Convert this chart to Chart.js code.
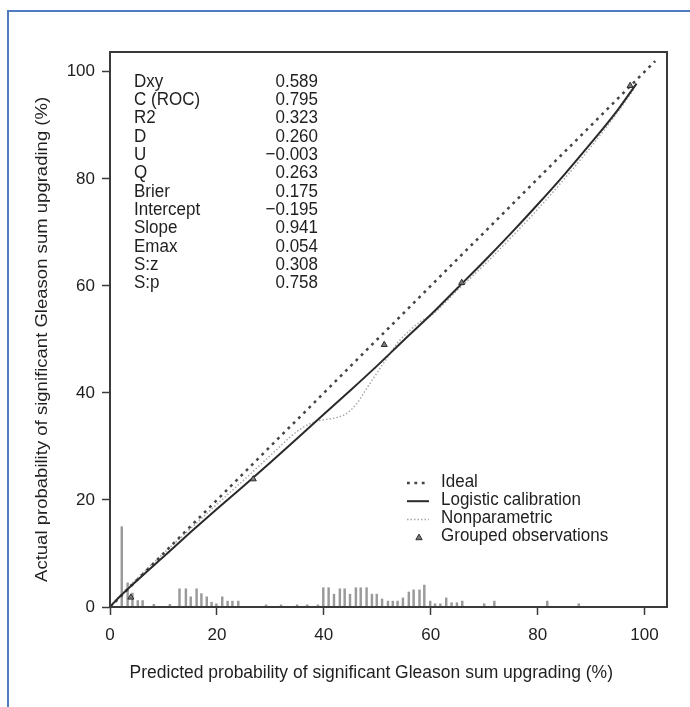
<!DOCTYPE html>
<html>
<head>
<meta charset="utf-8">
<script src="https://cdn.jsdelivr.net/npm/chart.js@4.4.1/dist/chart.umd.min.js"></script>
<style>
  html, body { margin: 0; padding: 0; background: #ffffff; }
  #wrap { position: relative; width: 690px; height: 707px; overflow: hidden; }
  #frame { position: absolute; left: 7px; top: 10px; width: 800px; height: 800px;
           border-top: 2px solid #4f7cc0; border-left: 2px solid #4f7cc0; }
  canvas { position: absolute; left: 0; top: 0; }
</style>
</head>
<body>
<div id="wrap">
  <div id="frame"></div>
  <canvas id="c" width="690" height="707"></canvas>
</div>
<script>
// ---------------- data ----------------
const xTickVals = [0, 20, 40, 60, 80, 100];
const yTickVals = [0, 20, 40, 60, 80, 100];

const xTitle = 'Predicted probability of significant Gleason sum upgrading (%)';
const yTitle = 'Actual probability of significant Gleason sum upgrading (%)';

const statLabels = ['Dxy', 'C (ROC)', 'R2', 'D', 'U', 'Q', 'Brier', 'Intercept', 'Slope', 'Emax', 'S:z', 'S:p'];
const statValues = ['0.589', '0.795', '0.323', '0.260', '\u22120.003', '0.263', '0.175', '\u22120.195', '0.941', '0.054', '0.308', '0.758'];

const legendLabels = ['Ideal', 'Logistic calibration', 'Nonparametric', 'Grouped observations'];

// Ideal line
const idealX = [0, 102];
const idealY = [0, 102];

// Logistic calibration curve
const logX = [0, 1, 2, 5, 10, 15, 20, 25, 30, 35, 40, 45, 50, 55, 60, 65, 70, 75, 80, 85, 90, 95, 98.5];
const logY = [0, 1.1, 2.1, 4.9, 9.4, 13.9, 18.3, 22.6, 27.0, 31.5, 36.0, 40.5, 45.1, 49.9, 54.6, 59.6, 64.6, 69.8, 75.2, 80.8, 86.7, 92.9, 97.8];

// Nonparametric (lowess) curve
const npX = [1, 3, 5, 10, 15, 20, 25, 30, 35, 38, 40, 42, 44, 46, 48, 50, 52, 54, 56, 58, 60, 65, 70, 75, 80, 85, 90, 95, 98];
const npY = [1.2, 3.3, 5.3, 10.0, 14.6, 19.2, 23.7, 28.3, 32.8, 34.5, 35.0, 35.3, 36.0, 37.8, 40.8, 43.8, 46.8, 49.6, 51.6, 53.3, 54.4, 59.2, 63.9, 69.0, 74.3, 80.0, 86.0, 92.5, 96.8];

// Grouped observations
const grpX = [3.9, 26.8, 51.3, 65.8, 97.3];
const grpY = [1.8, 23.9, 49.0, 60.6, 97.4];

// Rug (distribution of predicted probabilities)
const rugX = [2.2, 3.3, 4.2, 5.2, 6.1, 8.2, 11.2, 13.0, 14.2, 15.1, 16.2, 17.1, 18.1, 19.0, 19.9, 21.0, 22.0, 22.9, 24.0, 29.2, 32.0, 35.0, 36.9, 38.9, 39.9, 40.9, 41.9, 43.0, 43.9, 44.9, 46.0, 46.9, 48.0, 49.0, 49.9, 50.9, 52.0, 52.9, 53.8, 54.8, 55.9, 56.8, 57.9, 58.8, 59.9, 60.8, 61.8, 62.9, 63.9, 64.9, 65.9, 70.0, 71.9, 81.8, 87.7];
const rugH = [15.0, 4.5, 2.6, 1.2, 1.2, 0.5, 0.5, 3.4, 3.4, 1.9, 3.4, 2.5, 1.9, 0.9, 0.6, 1.9, 1.1, 1.1, 1.1, 0.4, 0.4, 0.4, 0.4, 0.4, 3.6, 3.6, 2.4, 3.4, 3.4, 2.4, 3.6, 3.6, 3.6, 2.4, 2.4, 1.5, 1.1, 1.1, 1.1, 1.7, 2.8, 3.2, 3.2, 4.1, 1.1, 0.6, 0.6, 1.7, 0.8, 0.8, 1.1, 0.6, 1.1, 1.1, 0.6];

// ---------------- styles ----------------
const FONT = "'Liberation Sans', Arial, Helvetica, sans-serif";
const TXT = '#1f1f1f';
const STRETCH = 1.09;
const pts = (xs, ys) => xs.map((x, i) => ({ x: x, y: ys[i] }));

const styles = {
  ideal: { color: '#444444', width: 2.5, dash: [2.8, 4.6] },
  logistic: { color: '#2a2a2a', width: 2 },
  nonpar: { color: '#a8a8a8', width: 1.5, dash: [1.5, 2] },
  grouped: { fill: '#7a7a7a', stroke: '#2e2e2e' }
};

function txt(c, s, x, y, align) {
  c.save();
  c.translate(x, y);
  c.scale(1, STRETCH);
  c.textAlign = align;
  c.fillText(s, 0, 0);
  c.restore();
}

// ---------------- plugin for frame, stats, legend, titles ----------------
const decor = {
  id: 'decor',
  afterDraw(chart) {
    const c = chart.ctx;
    const a = chart.chartArea;
    const xs = chart.scales.x, ys = chart.scales.y;
    c.save();
    // plot frame
    c.strokeStyle = '#3a3a3a';
    c.lineWidth = 2;
    c.strokeRect(a.left, a.top, a.right - a.left, a.bottom - a.top);

    c.fillStyle = TXT;
    c.font = '17px ' + FONT;
    c.textBaseline = 'alphabetic';
    // stats
    for (let i = 0; i < statLabels.length; i++) {
      const y = 86.5 + 18.35 * i;
      txt(c, statLabels[i], 134, y, 'left');
      txt(c, statValues[i], 318, y, 'right');
    }
    // legend
    const lx0 = 407, lx1 = 429, tx = 441;
    for (let i = 0; i < legendLabels.length; i++) {
      const cy = 480 + 18.2 * i;
      c.fillStyle = TXT;
      txt(c, legendLabels[i], tx, cy + 6.5, 'left');
      const sy = cy + 3;
      c.beginPath();
      if (i === 0) {
        c.setLineDash(styles.ideal.dash); c.strokeStyle = styles.ideal.color; c.lineWidth = styles.ideal.width;
        c.moveTo(lx0, sy); c.lineTo(lx1, sy); c.stroke();
      } else if (i === 1) {
        c.setLineDash([]); c.strokeStyle = styles.logistic.color; c.lineWidth = styles.logistic.width;
        c.moveTo(lx0, sy); c.lineTo(lx1, sy); c.stroke();
      } else if (i === 2) {
        c.setLineDash(styles.nonpar.dash); c.strokeStyle = styles.nonpar.color; c.lineWidth = styles.nonpar.width;
        c.moveTo(lx0, sy); c.lineTo(lx1, sy); c.stroke();
      } else {
        c.setLineDash([]);
        const tcx = 419, r = 3.5;
        c.moveTo(tcx, sy - r); c.lineTo(tcx + r * 0.9, sy + r * 0.6); c.lineTo(tcx - r * 0.9, sy + r * 0.6); c.closePath();
        c.fillStyle = styles.grouped.fill; c.fill();
        c.strokeStyle = styles.grouped.stroke; c.lineWidth = 1; c.stroke();
      }
    }
    c.setLineDash([]);
    // axis titles
    c.fillStyle = TXT;
    c.font = '17.5px ' + FONT;
    c.textBaseline = 'alphabetic';
    txt(c, xTitle, xs.getPixelForValue(50) - 6, 678, 'center');
    c.font = '17px ' + FONT;
    c.save();
    c.translate(42, ys.getPixelForValue(50));
    c.rotate(-Math.PI / 2);
    c.scale(STRETCH, 1);
    c.textAlign = 'center';
    c.textBaseline = 'middle';
    c.fillText(yTitle, 0, 0);
    c.restore();
    c.restore();
  }
};

const axisCommon = {
  type: 'linear',
  offset: false,
  border: { display: false },
  grid: { display: true, offset: false, drawOnChartArea: false, drawTicks: true, tickLength: 8, tickColor: '#3a3a3a', tickWidth: 1.5 },
  title: { display: false }
};

new Chart(document.getElementById('c').getContext('2d'), {
  type: 'scatter',
  data: {
    datasets: [
      { type: 'bar', label: 'rug', data: pts(rugX, rugH), backgroundColor: '#9a9a9a', barThickness: 1.8, order: 10 },
      { type: 'line', label: legendLabels[0], data: pts(idealX, idealY), borderColor: styles.ideal.color, borderWidth: styles.ideal.width,
        borderDash: styles.ideal.dash, pointRadius: 0, fill: false, tension: 0, order: 3 },
      { type: 'line', label: legendLabels[2], data: pts(npX, npY), borderColor: styles.nonpar.color, borderWidth: styles.nonpar.width,
        borderDash: styles.nonpar.dash, pointRadius: 0, fill: false, cubicInterpolationMode: 'monotone', order: 4 },
      { type: 'line', label: legendLabels[1], data: pts(logX, logY), borderColor: styles.logistic.color, borderWidth: styles.logistic.width,
        pointRadius: 0, fill: false, cubicInterpolationMode: 'monotone', order: 2 },
      { type: 'scatter', label: legendLabels[3], data: pts(grpX, grpY), pointStyle: 'triangle', pointRadius: 3.5,
        backgroundColor: styles.grouped.fill, borderColor: styles.grouped.stroke, borderWidth: 1, showLine: false, order: 1 }
    ]
  },
  options: {
    responsive: false,
    animation: false,
    events: [],
    layout: { padding: { left: 0, top: 52, right: 23, bottom: 0 } },
    plugins: { legend: { display: false }, tooltip: { enabled: false }, title: { display: false } },
    scales: {
      x: Object.assign({}, axisCommon, {
        min: 0, max: 104.2,
        afterBuildTicks: s => { s.ticks = xTickVals.map(v => ({ value: v })); },
        afterFit: s => { s.height = 100; },
        ticks: { padding: 10, color: TXT, font: { family: FONT, size: 17 }, maxRotation: 0, autoSkip: false }
      }),
      y: Object.assign({}, axisCommon, {
        min: 0, max: 103.7,
        afterBuildTicks: s => { s.ticks = yTickVals.map(v => ({ value: v })); },
        afterFit: s => { s.width = 110; },
        ticks: { padding: 7, color: TXT, font: { family: FONT, size: 17 }, autoSkip: false }
      })
    }
  },
  plugins: [decor]
});
</script>
</body>
</html>
